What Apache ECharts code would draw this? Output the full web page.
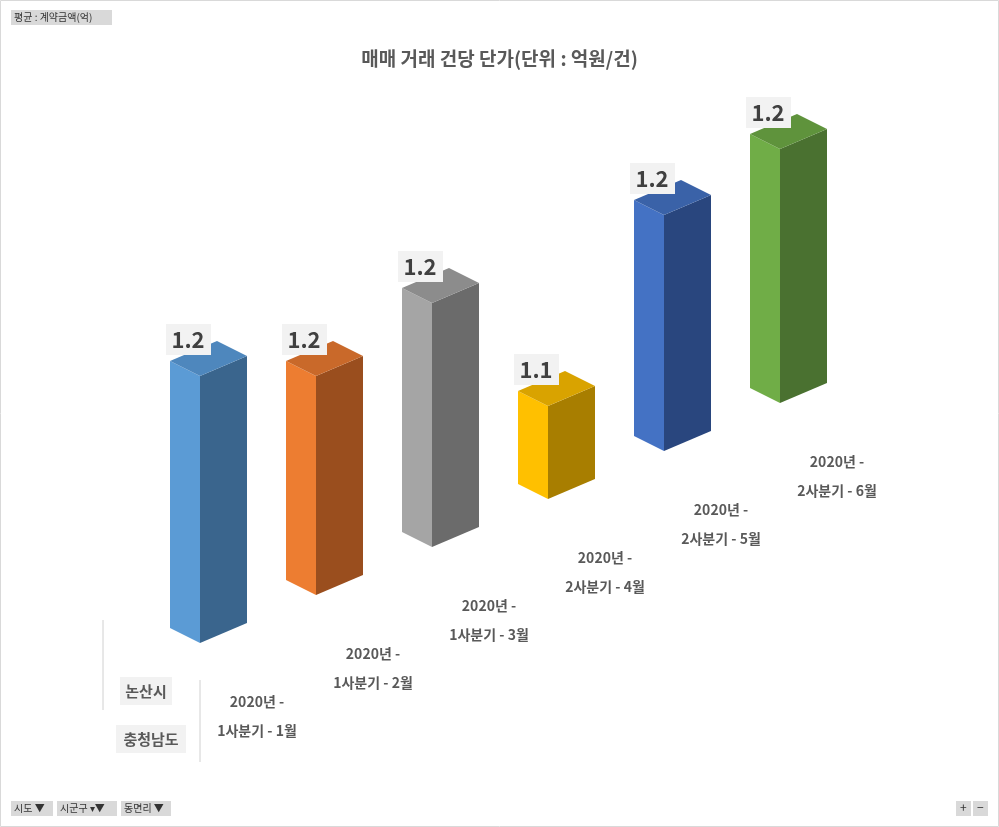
<!DOCTYPE html>
<html><head><meta charset="utf-8">
<script src="https://cdn.jsdelivr.net/npm/echarts@6/dist/echarts.min.js"></script>
<style>html,body{margin:0;padding:0;background:#fff}#c{width:999px;height:827px}</style>
</head><body><div id="c"></div>
<script>
const categories = ['2020년 -\n1사분기 - 1월','2020년 -\n1사분기 - 2월','2020년 -\n1사분기 - 3월','2020년 -\n2사분기 - 4월','2020년 -\n2사분기 - 5월','2020년 -\n2사분기 - 6월'];
const values = [1.237, 1.189, 1.214, 1.063, 1.206, 1.224];
const frontColors = ['#5b9bd5','#ed7d31','#a5a5a5','#ffc000','#4472c4','#70ad47'];
const sideColors = ['#3a658d','#9a4e1e','#6b6b6b','#a87e00','#29467e','#4a7130'];
const topColors = ['#4e87bd','#c9692a','#8c8c8c','#d9a300','#3a62a8','#5f933c'];
const YMIN = 0.97, YMAX = 1.3, DEPTH = 48;
const font = 'Malgun Gothic, "Noto Sans CJK KR", sans-serif';
const chart = echarts.init(document.getElementById('c'));
chart.setOption({
  animation:false,
  title:{text:'매매 거래 건당 단가(단위 : 억원/건)',left:'center',top:44,textStyle:{fontFamily:font,fontSize:19,fontWeight:'bold',color:'#595959'}},
  grid:{left:127,right:176,bottom:184,top:313},
  xAxis:{type:'category',data:categories,show:false},
  yAxis:{type:'value',min:YMIN,max:YMAX,show:false},
  graphic:[
    {type:'rect',shape:{x:0.5,y:0.5,width:998,height:826},style:{fill:'none',stroke:'#d9d9d9'}},
    {type:'rect',shape:{x:11,y:10,width:101,height:15},style:{fill:'#d9d9d9'}},
    {type:'text',x:14,y:12,style:{text:'평균 : 계약금액(억)',font:'10px '+font,fill:'#333'}},
    {type:'rect',shape:{x:11,y:801,width:42,height:15},style:{fill:'#d9d9d9'}},
    {type:'text',x:14,y:803,style:{text:'시도 ▼',font:'10px '+font,fill:'#333'}},
    {type:'rect',shape:{x:57,y:801,width:60,height:15},style:{fill:'#d9d9d9'}},
    {type:'text',x:60,y:803,style:{text:'시군구 ▾▼',font:'10px '+font,fill:'#333'}},
    {type:'rect',shape:{x:121,y:801,width:50,height:15},style:{fill:'#d9d9d9'}},
    {type:'text',x:124,y:803,style:{text:'동면리 ▼',font:'10px '+font,fill:'#333'}},
    {type:'rect',shape:{x:956,y:801,width:15,height:15},style:{fill:'#d9d9d9'}},
    {type:'text',x:960,y:801,style:{text:'+',font:'12px '+font,fill:'#333'}},
    {type:'rect',shape:{x:973,y:801,width:15,height:15},style:{fill:'#d9d9d9'}},
    {type:'text',x:977,y:801,style:{text:'−',font:'12px '+font,fill:'#333'}},
    {type:'line',shape:{x1:103,y1:620,x2:103,y2:710},style:{stroke:'#d0d0d0'}},
    {type:'line',shape:{x1:200,y1:680,x2:200,y2:762},style:{stroke:'#d0d0d0'}},
    {type:'rect',shape:{x:120,y:677,width:52,height:28},style:{fill:'#f2f2f2'}},
    {type:'text',x:146,y:691,style:{text:'논산시',font:'bold 15px '+font,fill:'#595959',align:'center',verticalAlign:'middle'}},
    {type:'rect',shape:{x:116,y:725,width:70,height:28},style:{fill:'#f2f2f2'}},
    {type:'text',x:151,y:739,style:{text:'충청남도',font:'bold 15px '+font,fill:'#595959',align:'center',verticalAlign:'middle'}}
  ],
  series:[{
    type:'custom',
    data: values.map((v,i)=>[i,v]),
    renderItem(params, api){
      const i = api.value(0), v = api.value(1);
      const base = api.coord([i, YMIN]);
      const top = api.coord([i, v]);
      const h = base[1]-top[1];
      const ax = base[0]+15, ay = base[1]-DEPTH*i;
      const fl=[ax-30,ay-15], fr=[ax,ay], br=[ax+47,ay-20];
      const up=p=>[p[0],p[1]-h];
      const bl=[ax+17,ay-35];
      const lbl = up(fl);
      const lines = categories[i].split('\n');
      return {type:'group',children:[
        {type:'polygon',shape:{points:[fl,fr,up(fr),up(fl)]},style:{fill:frontColors[i]}},
        {type:'polygon',shape:{points:[fr,br,up(br),up(fr)]},style:{fill:sideColors[i]}},
        {type:'polygon',shape:{points:[up(fl),up(fr),up(br),up(bl)]},style:{fill:topColors[i]}},
        {type:'rect',shape:{x:lbl[0]-4,y:lbl[1]-37,width:45,height:31},style:{fill:'#f2f2f2'}},
        {type:'text',x:lbl[0]+18,y:lbl[1]-21,style:{text:v.toFixed(1),font:'bold 22px '+font,fill:'#404040',align:'center',verticalAlign:'middle'}},
        {type:'text',x:ax+57,y:ay+59,style:{text:lines[0],font:'bold 14px '+font,fill:'#595959',align:'center',verticalAlign:'middle'}},
        {type:'text',x:ax+57,y:ay+88,style:{text:lines[1],font:'bold 14px '+font,fill:'#595959',align:'center',verticalAlign:'middle'}}
      ]};
    }
  }]
});
</script></body></html>
